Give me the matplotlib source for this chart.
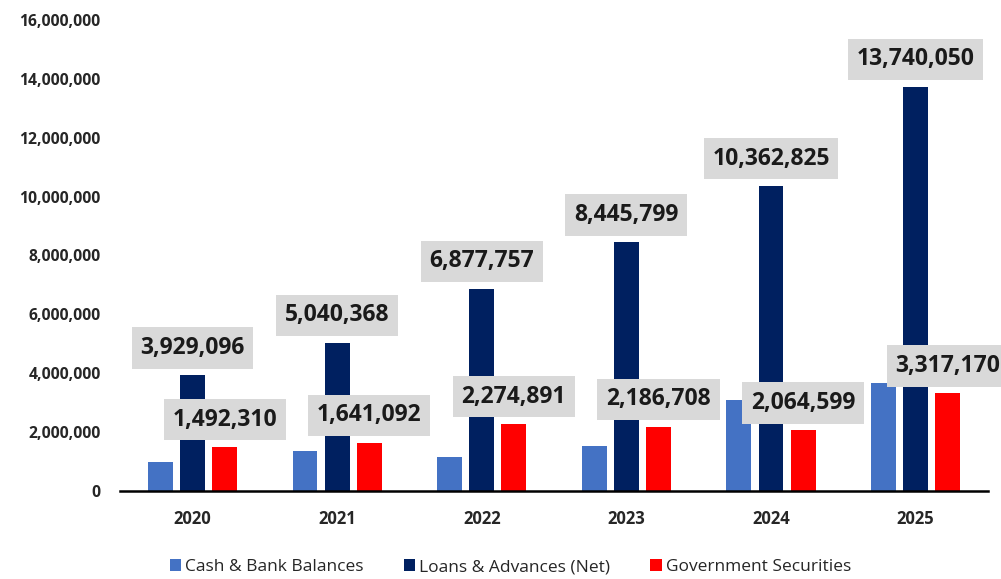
import matplotlib
matplotlib.use("Agg")
import matplotlib.pyplot as plt
from matplotlib.ticker import FuncFormatter
from matplotlib.patches import Patch
import numpy as np

years = ['2020', '2021', '2022', '2023', '2024', '2025']
cash = [990000, 1360000, 1160000, 1540000, 3100000, 3670000]
loans = [3929096, 5040368, 6877757, 8445799, 10362825, 13740050]
gov = [1492310, 1641092, 2274891, 2186708, 2064599, 3317170]
series_names = ['Cash & Bank Balances', 'Loans & Advances (Net)', 'Government Securities']
colors = ['#4472C4', '#002060', '#FF0000']

plt.rcParams['font.family'] = ['Open Sans', 'DejaVu Sans']

fig = plt.figure(figsize=(10.01, 5.79), dpi=100)
ax = fig.add_axes([0.12, 0.152, 0.867, 0.8135])

x = np.arange(len(years))
w = 0.172
step = 0.222
bars_cash = ax.bar(x - step, cash, w, color=colors[0], zorder=2)
bars_loans = ax.bar(x, loans, w, color=colors[1], zorder=2)
bars_gov = ax.bar(x + step, gov, w, color=colors[2], zorder=2)

def label(bars, vals):
    for b, v in zip(bars, vals):
        ax.annotate(f'{v:,}', xy=(b.get_x() + b.get_width() / 2, v),
                    xytext=(0, 11), textcoords='offset points',
                    ha='center', va='bottom', fontsize=16.5, fontweight='bold',
                    color='#1a1a1a', zorder=5, annotation_clip=False,
                    bbox=dict(boxstyle='square,pad=0.38', fc='#D9D9D9', ec='none'))

label(bars_loans, loans)
label(bars_gov, gov)

ax.set_xlim(-0.5, len(years) - 0.5)
ax.set_ylim(0, 16000000)
ax.set_yticks(np.arange(0, 16000001, 2000000))
ax.yaxis.set_major_formatter(FuncFormatter(lambda v, p: f'{int(v):,}'))
ax.set_xticks(x)
ax.set_xticklabels(years)
for s in ['top', 'right', 'left']:
    ax.spines[s].set_visible(False)
ax.spines['bottom'].set_linewidth(1.8)
ax.spines['bottom'].set_color('black')
ax.tick_params(axis='y', length=0, pad=14, labelsize=11.3)
ax.tick_params(axis='x', length=0, pad=14, labelsize=12)
for t in ax.get_yticklabels() + ax.get_xticklabels():
    t.set_fontweight('bold')
    t.set_color('#262626')

handles = [Patch(facecolor=c, edgecolor='none') for c in colors]
fig.legend(handles, series_names, loc='center', bbox_to_anchor=(0.51, 1 - 567 / 579),
           ncol=3, frameon=False, fontsize=12.5, handlelength=0.65, handleheight=0.65,
           handletextpad=0.25, columnspacing=2.3, labelcolor='#262626')

fig.savefig('out.png', dpi=100)
